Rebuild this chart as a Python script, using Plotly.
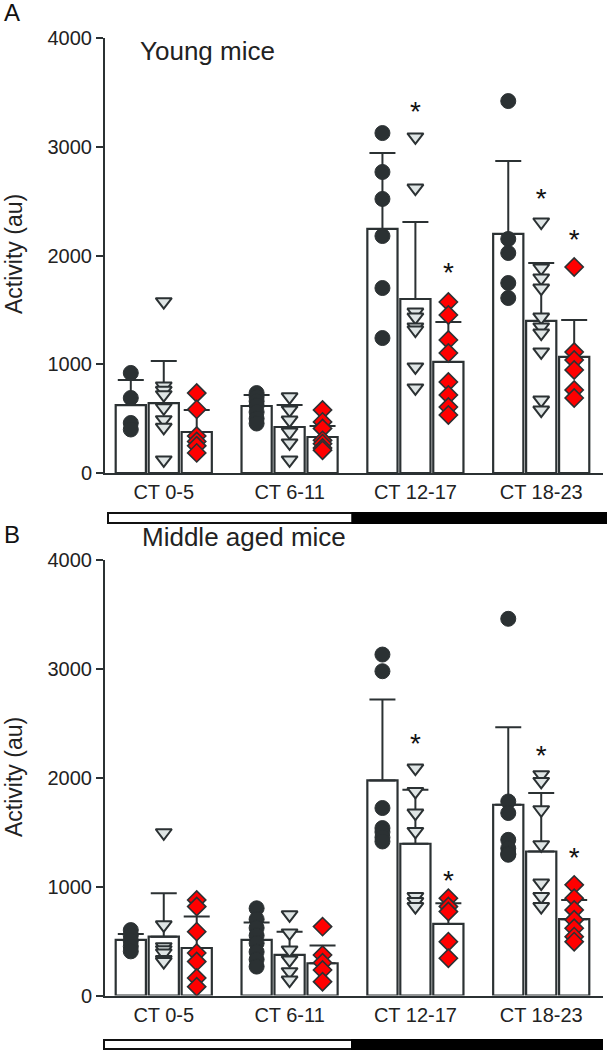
import plotly.graph_objects as go

# ---------------- data ----------------
categories = ["CT 0-5", "CT 6-11", "CT 12-17", "CT 18-23"]
series_names = ["circle group", "triangle group", "diamond group"]

# Panel A: Young mice (bar means, SD)
young_mean_circle = [625, 616, 2244, 2198]
young_mean_triangle = [643, 423, 1600, 1398]
young_mean_diamond = [377, 331, 1021, 1067]
young_sd_circle = [230, 101, 699, 671]
young_sd_triangle = [387, 202, 708, 533]
young_sd_diamond = [202, 101, 368, 340]

young_pts_circle = [
    [920, 690, 460, 400],
    [735, 700, 660, 620, 560, 500, 455],
    [3126, 2768, 2520, 2179, 1701, 1241],
    [3420, 2152, 2023, 1747, 1609],
]
young_pts_triangle = [
    [1575, 800, 760, 720, 600, 490, 420, 120],
    [700, 580, 487, 377, 276, 120],
    [3090, 2620, 1480, 1434, 1343, 1315, 975, 782],
    [2308, 1885, 1793, 1701, 1434, 1343, 1287, 1113, 671, 579],
]
young_pts_diamond = [
    [735, 585, 340, 290, 250, 185],
    [580, 470, 410, 300, 270, 230, 210],
    [1572, 1453, 1223, 1103, 837, 717, 607, 533],
    [1894, 1113, 1039, 947, 763, 690],
]
# significance asterisks: (group index, series index, y)
young_star_group = [2, 2, 3, 3]
young_star_series = [1, 2, 1, 2]
young_star_y = [3300, 1820, 2505, 2128]

# Panel B: Middle aged mice
middle_mean_circle = [510, 510, 1973, 1750]
middle_mean_triangle = [540, 372, 1392, 1321]
middle_mean_diamond = [436, 296, 657, 700]
middle_sd_circle = [55, 159, 742, 710]
middle_sd_triangle = [399, 214, 496, 537]
middle_sd_diamond = [288, 162, 190, 177]

middle_pts_circle = [
    [600, 550, 500, 450, 405],
    [800, 700, 620, 550, 480, 400, 330, 265],
    [3128, 2975, 1720, 1536, 1500, 1450, 1413],
    [3456, 1780, 1674, 1428, 1350, 1300, 1291],
]
middle_pts_triangle = [
    [1493, 648, 448, 420, 390, 330, 311],
    [740, 574, 418, 326, 219, 142],
    [2087, 1872, 1674, 1505, 908, 862, 816],
    [2026, 1964, 1704, 1383, 1031, 908, 816],
]
middle_pts_diamond = [
    [877, 816, 586, 390, 311, 161, 81],
    [632, 372, 300, 234, 127],
    [893, 816, 770, 494, 342],
    [1015, 893, 785, 694, 617, 540, 494],
]
middle_star_group = [2, 2, 3, 3]
middle_star_series = [1, 2, 1, 2]
middle_star_y = [2287, 1031, 2180, 1246]

y_tickvals = [0, 1000, 2000, 3000, 4000]
y_ticktext = ["0", "1000", "2000", "3000", "4000"]

# ---------------- style ----------------
DARK = "#2b3133"
GREY = "#dfe5e5"
RED = "#ff0000"
FONT = "Liberation Sans, Arial, sans-serif"
OFFSETS = [-0.262, 0.0, 0.262]
BAR_W = 0.24

marker_styles = [
    dict(symbol="circle", size=15, color=DARK, line=dict(color=DARK, width=1)),
    dict(symbol="triangle-down", size=14, color=GREY, line=dict(color=DARK, width=2)),
    dict(symbol="diamond", size=14, color=RED, line=dict(color=DARK, width=1.6)),
]

fig = go.Figure()


def add_panel(xa, ya, means, sds, pts, star_g, star_s, star_y):
    for s in range(3):
        fig.add_trace(go.Bar(
            x=[g + OFFSETS[s] for g in range(len(categories))],
            y=means[s], width=BAR_W, name=series_names[s],
            marker=dict(color="white", line=dict(color=DARK, width=2.2)),
            error_y=dict(type="data", array=sds[s], arrayminus=[0] * len(sds[s]),
                         symmetric=False, color=DARK, thickness=2, width=13),
            xaxis=xa, yaxis=ya, showlegend=False, hoverinfo="skip",
        ))
    for s in range(3):
        xs, ys = [], []
        for g, vals in enumerate(pts[s]):
            xs += [g + OFFSETS[s]] * len(vals)
            ys += vals
        fig.add_trace(go.Scatter(
            x=xs, y=ys, mode="markers", marker=marker_styles[s],
            xaxis=xa, yaxis=ya, showlegend=False, hoverinfo="skip",
        ))
    fig.add_trace(go.Scatter(
        x=[g + OFFSETS[s] for g, s in zip(star_g, star_s)], y=star_y,
        mode="text", text=["*"] * len(star_y),
        textfont=dict(size=28, color="#111111", family=FONT),
        textposition="middle center",
        xaxis=xa, yaxis=ya, showlegend=False, hoverinfo="skip",
    ))


add_panel("x", "y",
          [young_mean_circle, young_mean_triangle, young_mean_diamond],
          [young_sd_circle, young_sd_triangle, young_sd_diamond],
          [young_pts_circle, young_pts_triangle, young_pts_diamond],
          young_star_group, young_star_series, young_star_y)
add_panel("x2", "y2",
          [middle_mean_circle, middle_mean_triangle, middle_mean_diamond],
          [middle_sd_circle, middle_sd_triangle, middle_sd_diamond],
          [middle_pts_circle, middle_pts_triangle, middle_pts_diamond],
          middle_star_group, middle_star_series, middle_star_y)

H, W = 1050, 607
xdom = [105 / W, 603 / W]
ydomA = [1 - 473 / H, 1 - 38 / H]
ydomB = [1 - 995.5 / H, 1 - 559.5 / H]

xaxis_common = dict(
    range=[-0.467, 3.491], showline=True, linecolor=DARK, linewidth=2,
    tickvals=list(range(len(categories))), ticktext=categories, ticks="",
    showgrid=False, zeroline=False, automargin=False,
    tickfont=dict(size=20, color="#222222", family=FONT), domain=xdom,
)
yaxis_common = dict(
    range=[0, 4000], showline=True, linecolor=DARK, linewidth=2,
    tickvals=y_tickvals, ticktext=y_ticktext, ticks="outside", ticklen=7,
    tickwidth=2, tickcolor=DARK, showgrid=False, zeroline=False, automargin=False,
    tickfont=dict(size=20, color="#222222", family=FONT),
)

fig.update_layout(
    width=W, height=H,
    margin=dict(l=0, r=0, t=0, b=0),
    paper_bgcolor="white", plot_bgcolor="white",
    barmode="overlay", showlegend=False,
    font=dict(family=FONT, color="#222222"),
    xaxis=dict(xaxis_common, anchor="y"),
    yaxis=dict(yaxis_common, domain=ydomA, anchor="x"),
    xaxis2=dict(xaxis_common, anchor="y2"),
    yaxis2=dict(yaxis_common, domain=ydomB, anchor="x2"),
)

annotations = [
    dict(text="A", x=2 / W, y=1 - 12 / H, xanchor="left", yanchor="middle", font=dict(size=24, color="#111111")),
    dict(text="B", x=2 / W, y=1 - 534 / H, xanchor="left", yanchor="middle", font=dict(size=24, color="#111111")),
    dict(text="Young mice", x=138 / W, y=1 - 51 / H, xanchor="left", yanchor="middle", font=dict(size=26, color="#222222")),
    dict(text="Middle aged mice", x=140 / W, y=1 - 537 / H, xanchor="left", yanchor="middle", font=dict(size=26, color="#222222")),
    dict(text="Activity (au)", x=14 / W, y=1 - 254 / H, xanchor="center", yanchor="middle", textangle=-90, font=dict(size=23, color="#222222")),
    dict(text="Activity (au)", x=14 / W, y=1 - 777 / H, xanchor="center", yanchor="middle", textangle=-90, font=dict(size=23, color="#222222")),
]
for a in annotations:
    a.update(xref="paper", yref="paper", showarrow=False, font=dict(a["font"], family=FONT))
fig.update_layout(annotations=annotations)

# light/dark phase bars
shapes = [
    dict(type="rect", x0=108 / W, x1=352.5 / W, y0=1 - 523 / H, y1=1 - 513 / H, fillcolor="white", line=dict(color="#111111", width=2)),
    dict(type="rect", x0=352.5 / W, x1=1.0, y0=1 - 523 / H, y1=1 - 513 / H, fillcolor="#000000", line=dict(color="#000000", width=2)),
    dict(type="rect", x0=104 / W, x1=352 / W, y0=1 - 1049 / H, y1=1 - 1040 / H, fillcolor="white", line=dict(color="#111111", width=2)),
    dict(type="rect", x0=352 / W, x1=602 / W, y0=1 - 1049 / H, y1=1 - 1040 / H, fillcolor="#000000", line=dict(color="#000000", width=2)),
]
for s in shapes:
    s.update(xref="paper", yref="paper", layer="above")
fig.update_layout(shapes=shapes)

fig.write_html(
    "out.html",
    config={"displayModeBar": False},
    post_script="document.body.style.margin='0';document.body.style.overflow='hidden';",
)
